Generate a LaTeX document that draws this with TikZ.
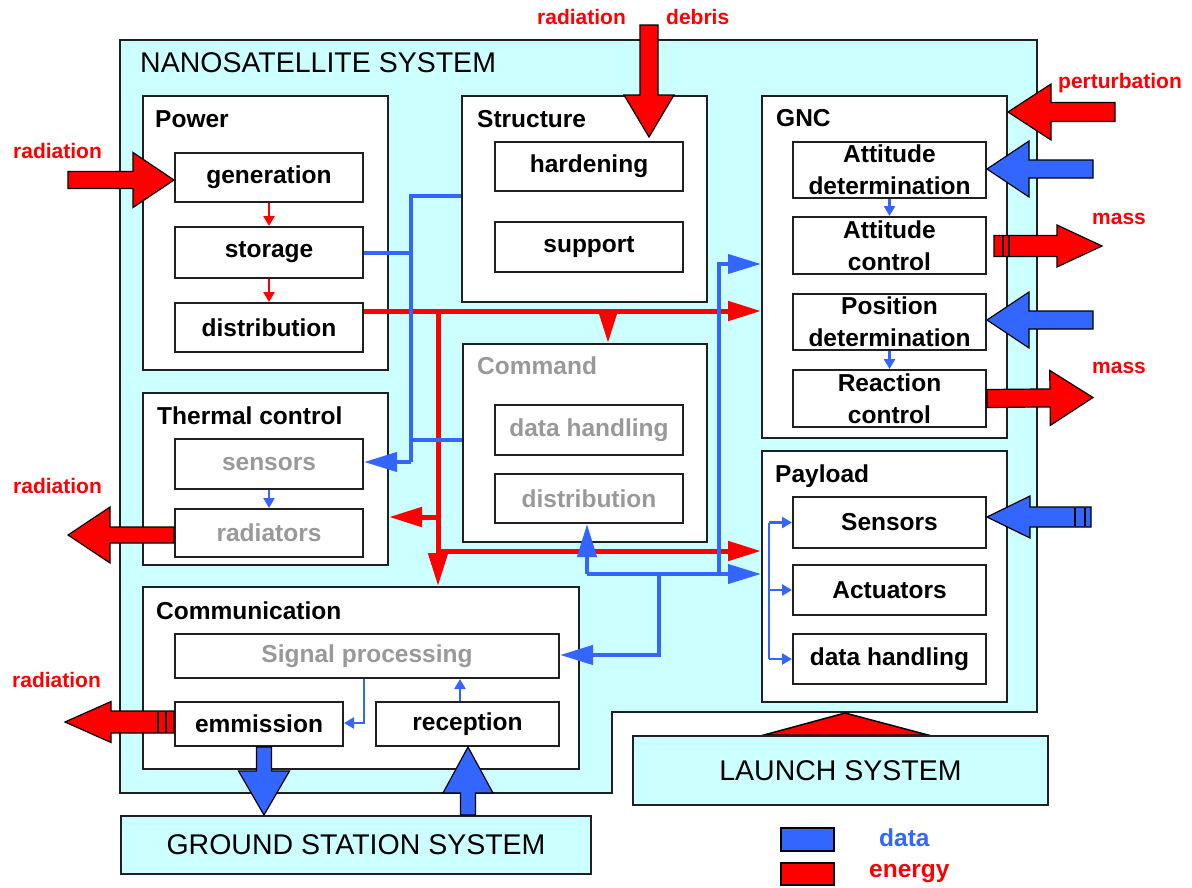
\documentclass[tikz,border=0pt]{standalone}
\usepackage{fontspec}
\setmainfont{Liberation Sans}
\usetikzlibrary{arrows.meta,calc}

\definecolor{skyfill}{HTML}{CCFFFF}
\definecolor{dred}{HTML}{FF0000}
\definecolor{dblue}{HTML}{3366FF}
\definecolor{greytext}{HTML}{999999}
\definecolor{edge}{HTML}{202020}

\newcommand{\boxfont}{\fontsize{24.5}{32}\selectfont\bfseries}
\newcommand{\sysfont}{\fontsize{28.5}{34}\selectfont}
\newcommand{\redfont}{\fontsize{21}{25}\selectfont\bfseries}

% block arrow: [style]{tail}{tip}{shaft half width}{head half width}{head length}
\newcommand{\blockarrow}[6][]{%
  \coordinate (bahd) at ($#3!#6!#2$);
  \filldraw[#1] ($#2!#4!90:#3$) -- ($(bahd)!#4!-90:#2$) -- ($(bahd)!#5!-90:#2$)
    -- #3 -- ($(bahd)!#5!90:#2$) -- ($(bahd)!#4!90:#2$) -- ($#2!#4!-90:#3$) -- cycle;}

\begin{document}
\begin{tikzpicture}[x=1pt,y=-1pt,
  panel/.style={draw=edge,line width=2pt,fill=white,anchor=north west,inner sep=0pt},
  item/.style={panel,align=center,font=\boxfont},
  faded/.style={text=greytext},
  sysbox/.style={draw=edge,line width=2pt,fill=skyfill,anchor=north west,inner sep=0pt,font=\sysfont},
  ptitle/.style={anchor=base west,inner sep=0pt,font=\boxfont},
  rlabel/.style={anchor=base west,inner sep=0pt,font=\redfont,text=dred},
  rline/.style={draw=dred,line width=5pt},
  bline/.style={draw=dblue,line width=4pt},
  bighead/.style={-{Triangle[length=33pt,width=19pt]}},
  sred/.style={draw=dred,line width=2.5pt,-{Triangle[length=10pt,width=11pt]}},
  sblue/.style={draw=dblue,line width=2.5pt,-{Triangle[length=10pt,width=11pt]}},
  redblock/.style={fill=dred,draw=black,line width=1.2pt},
  blueblock/.style={fill=dblue,draw=black,line width=1.2pt},
  stripe/.style={draw=black,line width=2pt},
  keybox/.style={draw=black,line width=2pt,anchor=north west,inner sep=0pt,minimum width=53pt,minimum height=23pt}
]
\useasboundingbox (0,0) rectangle (1192,887);

% satellite envelope
\draw[edge,line width=2pt,fill=skyfill] (120,40) -- (1037,40) -- (1037,712) -- (612,712)
  -- (612,793) -- (120,793) -- cycle;
\node[anchor=base west,inner sep=0pt,font=\sysfont] (tNano) at (140,72) {NANOSATELLITE SYSTEM};

% subsystem panels
\node[panel,minimum width=245pt,minimum height=274pt] (power) at (142,95) {};
\node[panel,minimum width=245pt,minimum height=206pt] (structure) at (461,95) {};
\node[panel,minimum width=245pt,minimum height=342pt] (gnc) at (761,95) {};
\node[panel,minimum width=245pt,minimum height=172pt] (thermal) at (142,392) {};
\node[panel,minimum width=244pt,minimum height=198pt] (command) at (462,343) {};
\node[panel,minimum width=245pt,minimum height=251pt] (payload) at (761,450) {};
\node[panel,minimum width=436pt,minimum height=182pt] (comm) at (142,586) {};

\node[ptitle] (tPower) at (155,127) {Power};
\node[ptitle] (tStruct) at (477,127) {Structure};
\node[ptitle] (tGnc) at (776,126) {GNC};
\node[ptitle] (tTherm) at (157,424) {Thermal control};
\node[ptitle,faded] (tCmd) at (477,374) {Command};
\node[ptitle] (tPay) at (775,482) {Payload};
\node[ptitle] (tComm) at (156,619) {Communication};

% functions
\node[item,minimum width=188pt,minimum height=49pt] (generation) at (174,152) {generation};
\node[item,minimum width=188pt,minimum height=51pt] (storage) at (174,226) {storage};
\node[item,minimum width=188pt,minimum height=49pt] (distribution) at (174,302) {distribution};
\node[item,minimum width=188pt,minimum height=49pt] (hardening) at (494,141) {hardening};
\node[item,minimum width=188pt,minimum height=50pt] (support) at (494,221) {support};
\node[item,minimum width=193pt,minimum height=56pt] (attdet) at (792,141) {Attitude\\determination};
\node[item,minimum width=193pt,minimum height=57pt] (attctl) at (792,216) {Attitude\\control};
\node[item,minimum width=193pt,minimum height=56pt] (posdet) at (792,293) {Position\\determination};
\node[item,minimum width=193pt,minimum height=57pt] (reactctl) at (792,369) {Reaction\\control};
\node[item,faded,minimum width=188pt,minimum height=50pt] (sensors) at (174,438) {sensors};
\node[item,faded,minimum width=188pt,minimum height=48pt] (radiators) at (174,508) {radiators};
\node[item,faded,minimum width=188pt,minimum height=50pt] (datahand) at (494,404) {data handling};
\node[item,faded,minimum width=188pt,minimum height=49pt] (cmddist) at (494,473) {distribution};
\node[item,minimum width=193pt,minimum height=51pt] (psensors) at (792,496) {Sensors};
\node[item,minimum width=193pt,minimum height=50pt] (actuators) at (792,564) {Actuators};
\node[item,minimum width=193pt,minimum height=50pt] (pdata) at (792,633) {data handling};
\node[item,faded,minimum width=384pt,minimum height=44pt] (sigproc) at (174,633) {Signal processing};
\node[item,minimum width=168pt,minimum height=44pt] (emission) at (174,701) {emmission};
\node[item,minimum width=183pt,minimum height=44pt] (reception) at (375,701) {reception};

% launch interface and external systems
\filldraw[fill=dred,draw=black,line width=1.5pt] (764,735) -- (845,713) -- (928,735) -- cycle;
\node[sysbox,minimum width=470pt,minimum height=58pt] (ground) at (120,815) {GROUND STATION SYSTEM};
\node[sysbox,minimum width=415pt,minimum height=69pt] (launch) at (632,735) {LAUNCH SYSTEM};

% energy network
\coordinate (rA) at (438,311);
\coordinate (rB) at (438,517);
\coordinate (rC) at (438,551);
\coordinate (rD) at (608,311);
\draw[rline,bighead] (distribution.east |- rA) -- (gnc.west |- rA);
\draw[rline,bighead] (rA) -- (rA |- comm.north);
\draw[rline,bighead] (rB) -- (thermal.east |- rB);
\draw[rline,bighead] (rC) -- (payload.west |- rC);
\draw[rline,bighead] (rD) -- (rD |- command.north);
\draw[sred] (generation.south) -- (storage.north);
\draw[sred] (storage.south) -- (distribution.north);

% data network
\coordinate (bA) at (411,196);
\coordinate (bC) at (411,440);
\coordinate (bD) at (411,462);
\draw[bline] (structure.west |- bA) -- (bA) -- (bD);
\draw[bline] (storage.east) -- (storage.east -| bA);
\draw[bline] (bC) -- (command.west |- bC);
\draw[bline,bighead] (bD) -- (sensors.east |- bD);

\coordinate (bE) at (719,264);
\coordinate (bF) at (719,574);
\coordinate (bG) at (587,574);
\coordinate (bH) at (659,574);
\coordinate (bI) at (659,655);
\draw[bline,bighead] (bF) -- (bE) -- (gnc.west |- bE);
\draw[bline,bighead] (bG) -- (payload.west |- bG);
\draw[bline,bighead] (bG) -- (cmddist.south -| bG);
\draw[bline,bighead] (bH) -- (bI) -- (sigproc.east |- bI);

\draw[sblue] (attdet.south) -- (attctl.north);
\draw[sblue] (posdet.south) -- (reactctl.north);
\draw[sblue] (sensors.south) -- (radiators.north);
\coordinate (sR) at (460,701);
\draw[sblue] (reception.north -| sR) -- (sigproc.south -| sR);
\coordinate (sE) at (364,723);
\draw[sblue] (sigproc.south -| sE) -- (sE) -- (emission.east |- sE);
\coordinate (pX) at (769,0);
\draw[dblue,line width=2.5pt] (psensors.west -| pX) -- (pdata.west -| pX);
\draw[sblue] (psensors.west -| pX) -- (psensors.west);
\draw[sblue] (actuators.west -| pX) -- (actuators.west);
\draw[sblue] (pdata.west -| pX) -- (pdata.west);

% environment flows
\coordinate (e1t) at (68,180);   \coordinate (e1h) at (generation.west |- e1t);
\blockarrow[redblock]{(e1t)}{(e1h)}{8.5pt}{27.5pt}{41pt}
\coordinate (e2t) at (649,25);   \coordinate (e2h) at (649,137);
\blockarrow[redblock]{(e2t)}{(e2h)}{9pt}{25pt}{42pt}
\coordinate (e3t) at (1115,112); \coordinate (e3h) at (1008,112);
\blockarrow[redblock]{(e3t)}{(e3h)}{9.5pt}{28pt}{43pt}
\coordinate (e4t) at (1093,169); \coordinate (e4h) at (attdet.east |- e4t);
\blockarrow[blueblock]{(e4t)}{(e4h)}{9pt}{28pt}{42pt}
\coordinate (e5t) at (994,246);  \coordinate (e5h) at (1102,246);
\blockarrow[redblock]{(e5t)}{(e5h)}{10.5pt}{21pt}{45pt}
\draw[stripe] (1003,236) -- (1003,256);
\draw[stripe] (1009,236) -- (1009,256);
\coordinate (e6t) at (1093,320); \coordinate (e6h) at (posdet.east |- e6t);
\blockarrow[blueblock]{(e6t)}{(e6h)}{9pt}{28pt}{42pt}
\coordinate (e7t) at (reactctl.east); \coordinate (e7h) at (1093,397.5);
\blockarrow[redblock]{(e7t)}{(e7h)}{9pt}{27.5pt}{43pt}
\coordinate (e8t) at (radiators.west |- 0,535); \coordinate (e8h) at (68,535);
\blockarrow[redblock]{(e8t)}{(e8h)}{8pt}{28pt}{42pt}
\coordinate (e9t) at (1091,517); \coordinate (e9h) at (psensors.east |- e9t);
\blockarrow[blueblock]{(e9t)}{(e9h)}{10pt}{21pt}{43pt}
\draw[stripe] (1075,508) -- (1075,526);
\draw[stripe] (1085,508) -- (1085,526);
\coordinate (e10t) at (emission.west |- 0,722); \coordinate (e10h) at (65,722);
\blockarrow[redblock]{(e10t)}{(e10h)}{11pt}{20.5pt}{46pt}
\draw[stripe] (158,712) -- (158,732);
\draw[stripe] (166,712) -- (166,732);
\coordinate (e11t) at (emission.south -| 264,0); \coordinate (e11h) at (ground.north -| e11t);
\blockarrow[blueblock]{(e11t)}{(e11h)}{7.5pt}{25.5pt}{44pt}
\coordinate (e12t) at (ground.north -| 468,0); \coordinate (e12h) at (reception.south -| e12t);
\blockarrow[blueblock]{(e12t)}{(e12h)}{7.5pt}{25pt}{46pt}

% environment labels
\node[rlabel] (l1) at (13,158.5) {radiation};
\node[rlabel] (l2) at (537,24.5) {radiation};
\node[rlabel] (l3) at (666,24.5) {debris};
\node[rlabel] (l4) at (1058,88) {perturbation};
\node[rlabel] (l5) at (1092,224.5) {mass};
\node[rlabel] (l6) at (1092,373.5) {mass};
\node[rlabel] (l7) at (13,493.5) {radiation};
\node[rlabel] (l8) at (12,687.5) {radiation};

% key
\node[keybox,fill=dblue] (kData) at (780,827) {};
\node[keybox,fill=dred,minimum height=22pt] (kEnergy) at (780,862) {};
\node[anchor=base west,inner sep=0pt,font=\boxfont,text=dblue] (tData) at (879,846.5) {data};
\node[anchor=base west,inner sep=0pt,font=\boxfont,text=dred] (tEnergy) at (869,877) {energy};
\end{tikzpicture}
\end{document}
